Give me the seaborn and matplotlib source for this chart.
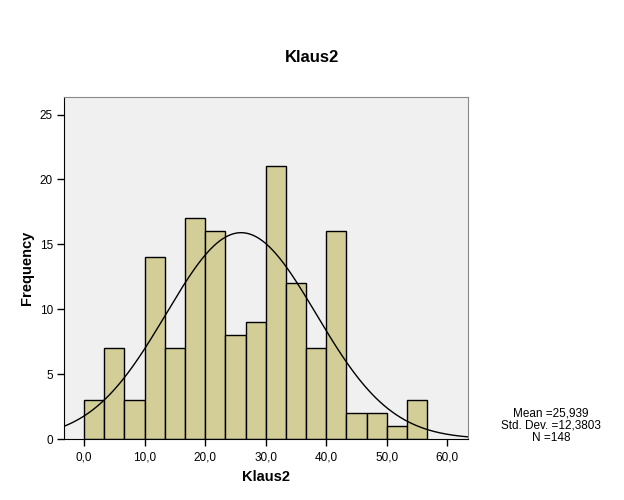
import numpy as np
import pandas as pd
import matplotlib
matplotlib.use("Agg")
import matplotlib.pyplot as plt
import seaborn as sns

# histogram bins (bin width 10/3)
bin_edges = [i * 10 / 3 for i in range(18)]
counts = [3, 7, 3, 14, 7, 17, 16, 8, 9, 21, 12, 7, 16, 2, 2, 1, 3]
mean, sd, n = 25.939, 12.3803, 148
xticks = [0, 10, 20, 30, 40, 50, 60]
yticks = [0, 5, 10, 15, 20, 25]

sns.set_style("white")
plt.rcParams['font.family'] = ['Liberation Sans', 'DejaVu Sans']
plt.rcParams['text.color'] = 'black'
plt.rcParams['axes.labelcolor'] = 'black'
plt.rcParams['xtick.color'] = 'black'
plt.rcParams['ytick.color'] = 'black'

fig = plt.figure(figsize=(6.24, 5.0), dpi=100)
ax = fig.add_axes([64 / 624, 1 - 439 / 500, (468 - 64) / 624, (439 - 97) / 500])
ax.set_facecolor('#f0f0f0')

df = pd.DataFrame({
    'Klaus2': [(a + b) / 2 for a, b in zip(bin_edges[:-1], bin_edges[1:])],
    'count': counts,
})
sns.histplot(data=df, x='Klaus2', weights='count', bins=bin_edges, ax=ax,
             color='#d3ce97', alpha=1, edgecolor='black', linewidth=1)

# fitted normal curve
w = bin_edges[1] - bin_edges[0]
xs = np.linspace(-3.3, 63.4, 300)
ys = n * w / (sd * np.sqrt(2 * np.pi)) * np.exp(-0.5 * ((xs - mean) / sd) ** 2)
sns.lineplot(x=xs, y=ys, ax=ax, color='black', linewidth=1)

ax.set_xlim(-3.3, 63.4)
ax.set_ylim(0, 26.35)
ax.set_xticks(xticks)
ax.set_xticklabels([f"{t:.1f}".replace('.', ',') for t in xticks], fontsize=8.5)
ax.set_yticks(yticks)
ax.set_yticklabels([str(t) for t in yticks], fontsize=8.5)
ax.tick_params(axis='both', bottom=True, left=True, direction='out',
               length=5, width=1, color='black', pad=3)
ax.tick_params(axis='x', pad=4)

for s in ['left', 'bottom']:
    ax.spines[s].set_color('black')
for s in ['top', 'right']:
    ax.spines[s].set_color('#888888')

ax.set_xlabel('Klaus2', fontsize=10.5, fontweight='bold', labelpad=5)
ax.set_ylabel('Frequency', fontsize=10.5, fontweight='bold', labelpad=4)
fig.text(0.5, 1 - 57 / 500, 'Klaus2', ha='center', va='center', fontsize=12, fontweight='bold')
stats = (f"Mean ={mean:.3f}".replace('.', ',') + "\n"
         + "Std. Dev. =" + f"{sd:.4f}".replace('.', ',') + "\n"
         + f"N ={n}")
fig.text(551 / 624, 1 - 426 / 500, stats,
         ha='center', va='center', fontsize=8.5, linespacing=1.05)

fig.savefig('out.png', dpi=100)
